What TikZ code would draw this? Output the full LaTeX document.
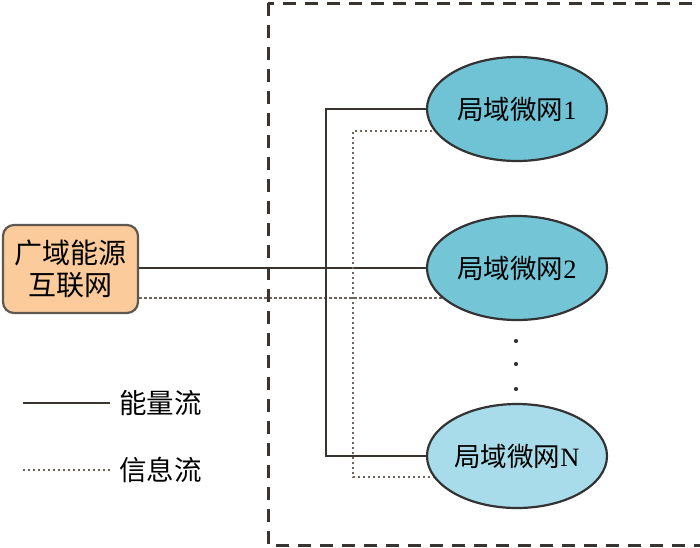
\documentclass[tikz,border=0pt]{standalone}
\usepackage{fontspec}
\setmainfont{Liberation Serif}
\newfontfamily\cjk{Noto Sans CJK SC}
\usetikzlibrary{shapes.geometric}
\pgfdeclarelayer{bg}
\pgfsetlayers{bg,main}
\definecolor{linec}{HTML}{3A3431}
\definecolor{dotc}{HTML}{6E645E}
\definecolor{boxfill}{HTML}{FBCB9B}
\definecolor{boxdraw}{HTML}{5E5752}
\definecolor{mgA}{HTML}{6FC3D5}
\definecolor{mgB}{HTML}{74C6D7}
\definecolor{mgC}{HTML}{A9DCEA}
\tikzset{
  energy/.style={draw=linec, line width=2.8pt},
  info/.style={draw=dotc, line width=2.8pt, dash pattern=on 2.4pt off 2.6pt},
  frame/.style={draw=linec, line width=3pt, dash pattern=on 13pt off 9pt},
  mg/.style={ellipse, draw=black!80, line width=2.2pt, minimum width=180pt, minimum height=104pt, inner sep=0pt, font=\fontsize{26.5}{30}\selectfont},
  srcbox/.style={rectangle, rounded corners=11pt, draw=boxdraw, line width=2.2pt, fill=boxfill, minimum width=135pt, minimum height=88pt, inner sep=0pt, align=center, font=\fontsize{28}{32}\selectfont\cjk},
  legtext/.style={anchor=west, inner sep=0pt, font=\fontsize{27.5}{30}\selectfont\cjk},
  vdot/.style={circle, fill=linec, inner sep=0pt, minimum size=4.2pt}
}
\begin{document}
\begin{tikzpicture}[x=1pt,y=-1pt]
\clip (0,0) rectangle (700,547);
% frame
\draw[frame] (268,3) rectangle (730,545);
% nodes
\node[srcbox] (src) at (70.5,269) {广域能源\\互联网};
\node[mg, fill=mgA] (e1) at (517,109) {{\cjk 局域微网}1};
\node[mg, fill=mgB] (e2) at (517,268) {{\cjk 局域微网}2};
\node[mg, fill=mgC] (eN) at (517,456) {{\cjk 局域微网}N};
\coordinate (sv) at (326,280);
\coordinate (dv) at (353,300);
\node[vdot] (p1) at (516,341) {};
\node[vdot] (p2) at (516,364) {};
\node[vdot] (p3) at (516,389) {};
% connectors
\begin{pgfonlayer}{bg}
\draw[energy] (src.east |- e2.center) -- (e2.center);
\draw[info] ([yshift=-29pt]src.east) -- ([yshift=-30pt]e2.center);
\draw[energy] (e1.center) -| (sv) |- (eN.center);
\draw[info] ([yshift=-22pt]e1.center) -| (dv) |- ([yshift=-21pt]eN.center);
\end{pgfonlayer}
% legend
\coordinate (l1a) at (23,403);
\coordinate (l1b) at (110,403);
\coordinate (l2a) at (23,470);
\coordinate (l2b) at (110,470);
\draw[energy] (l1a) -- (l1b);
\draw[info] (l2a) -- (l2b);
\node[legtext] (t1) at (119,403) {能量流};
\node[legtext] (t2) at (119,470) {信息流};
\end{tikzpicture}
\end{document}
